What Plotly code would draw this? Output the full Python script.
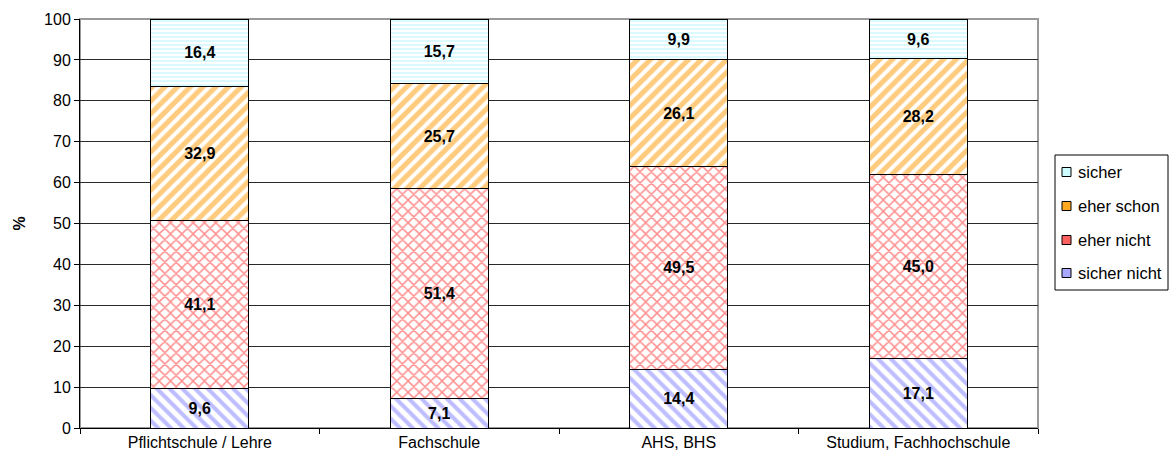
import plotly.graph_objects as go

categories = ["Pflichtschule / Lehre", "Fachschule", "AHS, BHS", "Studium, Fachhochschule"]
sicher_nicht = [9.6, 7.1, 14.4, 17.1]
eher_nicht = [41.1, 51.4, 49.5, 45.0]
eher_schon = [32.9, 25.7, 26.1, 28.2]
sicher = [16.4, 15.7, 9.9, 9.6]
y_ticks = [0, 10, 20, 30, 40, 50, 60, 70, 80, 90, 100]

FONT = "Liberation Sans, Arial, sans-serif"

# plot area in pixels (for placing the hand-drawn legend)
L, R, T, B = 80, 1038, 19, 428
W, H = 1170, 467

series = [
    ("sicher nicht", sicher_nicht, dict(shape="\\", fgcolor="#7C7CFF", bgcolor="white", size=9, solidity=0.45), "#A8A8FF"),
    ("eher nicht", eher_nicht, dict(shape="x", fgcolor="#FF2020", bgcolor="white", size=8, solidity=0.34), "#FF6060"),
    ("eher schon", eher_schon, dict(shape="/", fgcolor="#FF9800", bgcolor="white", size=9, solidity=0.56), "#FFA820"),
    ("sicher", sicher, dict(shape="-", fgcolor="#B8F6FF", bgcolor="white", size=4, solidity=0.5), "#CCFCFF"),
]

fig = go.Figure()
for name, vals, pat, _ in series:
    fig.add_trace(go.Bar(
        x=categories, y=vals, name=name,
        marker=dict(color="white", pattern=pat, line=dict(color="black", width=1)),
        texttemplate="%{y:.1f}", textposition="inside", insidetextanchor="middle",
        textangle=0, constraintext="none",
        textfont=dict(family=FONT, size=16, color="black", weight="bold"),
        width=0.41,
        showlegend=False,
    ))


def px(x):
    return (x - L) / (R - L)


def py(y):
    return (B - y) / (B - T)


# legend: frame, swatches and labels, top entry first
fig.add_shape(type="rect", xref="paper", yref="paper",
              x0=px(1055), x1=px(1168), y0=py(290), y1=py(155),
              line=dict(color="black", width=1), fillcolor="white")
row_y = [172, 206, 240, 273]
for (name, _, _, swatch), yc in zip(reversed(series), row_y):
    fig.add_shape(type="rect", xref="paper", yref="paper",
                  x0=px(1062), x1=px(1071), y0=py(yc + 4.5), y1=py(yc - 4.5),
                  line=dict(color="black", width=1), fillcolor=swatch)
    fig.add_annotation(x=px(1076), y=py(yc), xref="paper", yref="paper",
                       text=name, showarrow=False, xanchor="left", yanchor="middle",
                       font=dict(family=FONT, size=16.5, color="black"))

fig.update_layout(
    barmode="stack",
    separators=",.",
    width=W, height=H,
    margin=dict(l=L, r=W - R, t=T, b=H - B),
    paper_bgcolor="white", plot_bgcolor="white",
    font=dict(family=FONT, size=16, color="black"),
    showlegend=False,
    xaxis=dict(
        showline=True, linecolor="black", linewidth=1,
        ticks="outside", tickson="boundaries", ticklen=5, tickcolor="black",
        showgrid=False, tickfont=dict(size=16),
    ),
    yaxis=dict(
        range=[0, 100], tickvals=y_ticks,
        showline=True, linecolor="black", linewidth=1,
        ticks="outside", ticklen=5, tickcolor="black",
        showgrid=True, gridcolor="#2a2a2a", gridwidth=1,
        tickfont=dict(size=16),
        title=dict(text="<b>%</b>", font=dict(size=16), standoff=14),
        zeroline=False,
    ),
)

# gray frame around the plot area
fig.add_shape(type="rect", xref="paper", yref="paper", x0=0, x1=1, y0=0, y1=1,
              line=dict(color="#999999", width=2), layer="below")

fig.write_html("out.html")
